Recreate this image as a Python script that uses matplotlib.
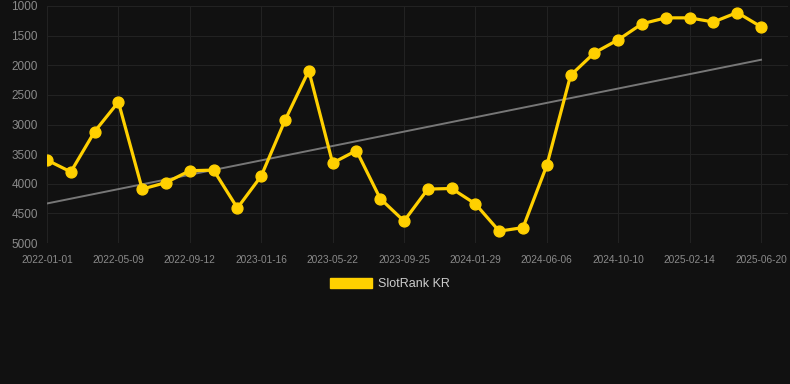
import numpy as np
import matplotlib.pyplot as plt
from matplotlib.patches import Patch

# rang SlotRank KR, un point toutes les ~6 semaines (31 points)
rank = [3600, 3800, 3120, 2620, 4090, 3980, 3780, 3770, 4410, 3870, 2930,
        2090, 3650, 3440, 4250, 4630, 4090, 4080, 4340, 4800, 4740, 3690,
        2170, 1790, 1570, 1300, 1200, 1200, 1270, 1110, 1350]

tick_labels = ['2022-01-01', '2022-05-09', '2022-09-12', '2023-01-16', '2023-05-22',
               '2023-09-25', '2024-01-29', '2024-06-06', '2024-10-10', '2025-02-14',
               '2025-06-20']

x = np.arange(len(rank))
rank = np.array(rank)

P = np.polyfit(x, rank, 1)  # droite de tendance
trend = np.poly1d(P)

bg = '#111111'
fig = plt.figure(figsize=(7.9, 3.84), dpi=100, facecolor=bg)
ax = fig.add_axes([47/790, 141/384, 741/790, 237/384], facecolor=bg)

ax.plot(x, trend(x), color='#777777', lw=1.4, zorder=2)
ax.plot(x, rank, color='#FFD000', lw=2.3, marker='o', ms=7.8, zorder=3)

ax.set_xlim(0, 741/23.8)
ax.set_ylim(5000, 1000)
ax.set_yticks(np.arange(1000, 5001, 500))
ax.set_xticks(x[::3])
ax.set_xticklabels(tick_labels, fontsize=7.3, color='#8a8a8a', family='Liberation Sans')
for t in ax.get_yticklabels():
    t.set_fontsize(8.5)
    t.set_color('#8a8a8a')
    t.set_family('Liberation Sans')
ax.tick_params(axis='both', length=0)
ax.tick_params(axis='y', pad=6.5)
ax.tick_params(axis='x', pad=8.5)
ax.grid(True, color='#222222', lw=0.8)
for s in ax.spines.values():
    s.set_visible(False)

fig.legend(handles=[Patch(color='#FFD000')], labels=['SlotRank KR'],
           loc='center', bbox_to_anchor=(390/790, 1 - 284/384), frameon=False,
           labelcolor='#cccccc', prop={'family': 'Liberation Sans', 'size': 9},
           handlelength=3.4, handleheight=0.9, handletextpad=0.5)

plt.savefig('out.png', dpi=100, facecolor=bg)
